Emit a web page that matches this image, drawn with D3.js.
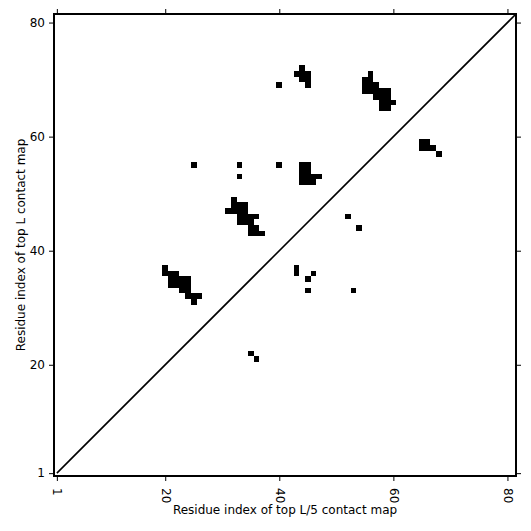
<!DOCTYPE html>
<html>
<head>
<meta charset="utf-8">
<script src="https://cdn.jsdelivr.net/npm/d3@7"></script>
<style>
  body { margin: 0; background: #fff; }
  text { font-family: "DejaVu Sans", sans-serif; }
</style>
</head>
<body>
<div id="chart"></div>
<script>
// 1: DATA (residue i on x, residue j on y)
const seqLength = 81;
const xTicks = [1, 20, 40, 60, 80];
const yTicks = [1, 20, 40, 60, 80];

const contactsA = [
    [20, 37], [20, 36], [21, 36], [22, 36],
    [21, 35], [22, 35], [23, 35], [24, 35],
    [21, 34], [22, 34], [23, 34], [24, 34],
    [23, 33], [24, 33],
    [24, 32], [25, 32], [26, 32],
    [25, 31]
];
const contactsB = [
    [32, 49], [32, 48], [33, 48], [34, 48],
    [31, 47], [32, 47], [33, 47], [34, 47],
    [33, 46], [34, 46], [35, 46], [36, 46],
    [33, 45], [34, 45], [35, 45],
    [35, 44], [36, 44],
    [35, 43], [36, 43], [37, 43]
];
const contactsC = [
    [44, 55], [45, 55], [44, 54], [45, 54],
    [44, 53], [45, 53], [46, 53], [47, 53],
    [44, 52], [45, 52], [46, 52]
];
const contactsD = [
    [44, 72], [43, 71], [44, 71], [45, 71],
    [44, 70], [45, 70], [45, 69]
];
const contactsE = [
    [56, 71], [55, 70], [56, 70],
    [55, 69], [56, 69], [57, 69],
    [55, 68], [56, 68], [57, 68], [58, 68], [59, 68],
    [57, 67], [58, 67], [59, 67],
    [58, 66], [59, 66], [60, 66],
    [58, 65], [59, 65]
];
const contactsF = [
    [65, 59], [66, 59], [65, 58], [66, 58], [67, 58], [68, 57]
];
const contactsSingle = [
    [25, 55], [33, 55], [33, 53], [40, 55], [40, 69],
    [52, 46], [54, 44],
    [43, 37], [43, 36], [46, 36], [45, 35], [45, 33], [53, 33],
    [35, 22], [36, 21]
];

const contacts = [].concat(contactsA, contactsB, contactsC, contactsD,
    contactsE, contactsF, contactsSingle);

// 2: LAYOUT
const W = 531, H = 531;
const margin = { top: 14, right: 15, bottom: 55, left: 54 };
const size = W - margin.left - margin.right;

const svg = d3.select("#chart")
    .append("svg")
    .attr("width", W)
    .attr("height", H);

const x = d3.scaleLinear()
    .domain([0.5, seqLength + 0.5])
    .range([margin.left, margin.left + size]);

const y = d3.scaleLinear()
    .domain([0.5, seqLength + 0.5])
    .range([margin.top + size, margin.top]);

// 3: CELLS
svg.append("g")
    .selectAll("rect")
    .data(contacts)
    .join("rect")
    .attr("x", d => x(d[0] - 0.5))
    .attr("y", d => y(d[1] + 0.5))
    .attr("width", d => x(d[0] + 0.5) - x(d[0] - 0.5))
    .attr("height", d => y(d[1] - 0.5) - y(d[1] + 0.5))
    .attr("fill", "#000")
    .attr("shape-rendering", "crispEdges");

// diagonal
svg.append("line")
    .attr("x1", x(1)).attr("y1", y(1))
    .attr("x2", x(seqLength + 0.5)).attr("y2", y(seqLength + 0.5))
    .attr("stroke", "#000")
    .attr("stroke-width", 1.6);

// 4: AXES
const bottom = margin.top + size;
const right = margin.left + size;

const xAxis = svg.append("g")
    .attr("transform", `translate(0,${bottom})`)
    .call(d3.axisBottom(x).tickValues(xTicks).tickSize(5));
// rotated tick labels, reading top to bottom
xAxis.selectAll("text")
    .attr("x", 0)
    .attr("y", 0)
    .attr("dy", "0.35em")
    .attr("text-anchor", "start")
    .attr("transform", "translate(0,12) rotate(90)");

svg.append("g")
    .attr("transform", `translate(0,${margin.top})`)
    .call(d3.axisTop(x).tickValues(xTicks).tickSize(5).tickFormat(""));

svg.append("g")
    .attr("transform", `translate(${margin.left},0)`)
    .call(d3.axisLeft(y).tickValues(yTicks).tickSize(5).tickPadding(4));

svg.append("g")
    .attr("transform", `translate(${right},0)`)
    .call(d3.axisRight(y).tickValues(yTicks).tickSize(5).tickFormat(""));

svg.selectAll(".domain").remove();
svg.selectAll(".tick line").attr("stroke", "#000").attr("stroke-width", 1);
svg.selectAll(".tick text")
    .attr("fill", "#000")
    .style("font-size", "12px")
    .style("font-family", "DejaVu Sans, sans-serif");

// frame
svg.append("rect")
    .attr("x", margin.left)
    .attr("y", margin.top)
    .attr("width", size)
    .attr("height", size)
    .attr("fill", "none")
    .attr("stroke", "#000")
    .attr("stroke-width", 2);

// labels
svg.append("text")
    .attr("x", margin.left + size / 2)
    .attr("y", 514)
    .attr("text-anchor", "middle")
    .style("font-size", "12px")
    .text("Residue index of top L/5 contact map");

svg.append("text")
    .attr("transform", "rotate(-90)")
    .attr("x", -(margin.top + size / 2))
    .attr("y", 25)
    .attr("text-anchor", "middle")
    .style("font-size", "12px")
    .text("Residue index of top L contact map");
</script>
</body>
</html>
